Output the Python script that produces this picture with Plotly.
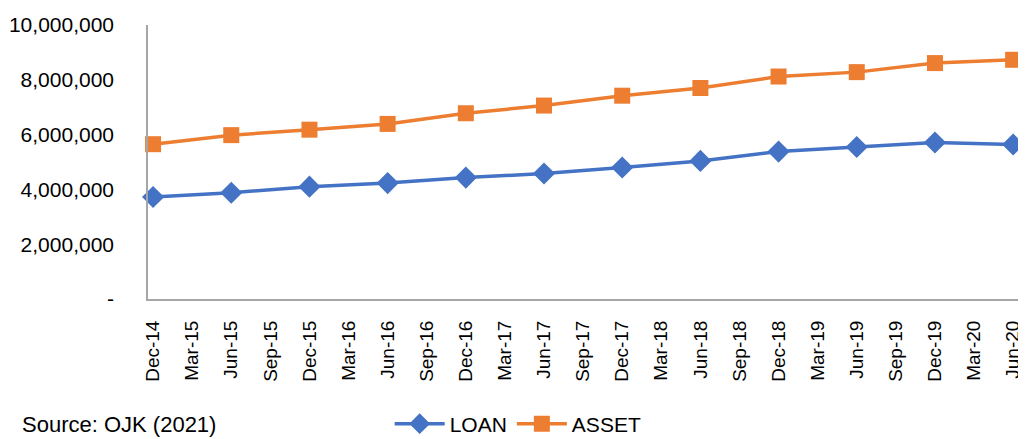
import plotly.graph_objects as go

categories = ["Dec-14", "Mar-15", "Jun-15", "Sep-15", "Dec-15", "Mar-16", "Jun-16", "Sep-16",
              "Dec-16", "Mar-17", "Jun-17", "Sep-17", "Dec-17", "Mar-18", "Jun-18", "Sep-18",
              "Dec-18", "Mar-19", "Jun-19", "Sep-19", "Dec-19", "Mar-20", "Jun-20"]
data_periods = ["Dec-14", "Jun-15", "Dec-15", "Jun-16", "Dec-16", "Jun-17",
                "Dec-17", "Jun-18", "Dec-18", "Jun-19", "Dec-19", "Jun-20"]
loan = [3720000, 3880000, 4100000, 4230000, 4430000, 4580000,
        4800000, 5040000, 5380000, 5550000, 5710000, 5640000]
asset = [5650000, 5980000, 6180000, 6390000, 6780000, 7060000,
         7420000, 7700000, 8120000, 8280000, 8610000, 8730000]
y_tickvals = [0, 2000000, 4000000, 6000000, 8000000, 10000000]
y_ticktext = ["-", "2,000,000", "4,000,000", "6,000,000", "8,000,000", "10,000,000"]

font = "Liberation Sans, Arial, sans-serif"

fig = go.Figure()
fig.add_trace(go.Scatter(x=data_periods, y=loan, name="LOAN", mode="lines+markers",
                         line=dict(color="#4472C4", width=3.5), cliponaxis=False,
                         marker=dict(symbol="diamond", size=17, color="#4472C4")))
fig.add_trace(go.Scatter(x=data_periods, y=asset, name="ASSET", mode="lines+markers",
                         line=dict(color="#ED7D31", width=3.5), cliponaxis=False,
                         marker=dict(symbol="square", size=16, color="#ED7D31")))

# page body has an 8px margin, so the figure is sized to fit the 1026x439 window
fig.update_layout(
    width=1018, height=431,
    margin=dict(l=140, r=7, t=17, b=140, autoexpand=False),
    plot_bgcolor="white", paper_bgcolor="white",
    font=dict(family=font, color="black"),
    showlegend=True,
    legend=dict(orientation="h", x=0.425, xanchor="center", y=(299-424)/274, yanchor="middle",
                font=dict(size=21, family=font), itemwidth=50, tracegroupgap=0),
    xaxis=dict(type="category", categoryorder="array", categoryarray=categories,
               tickmode="array", tickvals=categories, ticktext=categories,
               range=[-0.13, 22.15], tickangle=-90, tickfont=dict(size=19),
               showline=True, linecolor="#A6A6A6", linewidth=2, showgrid=False,
               ticks="", zeroline=False, automargin=False, ticklabelstandoff=12),
    yaxis=dict(range=[0, 10000000], tickvals=y_tickvals, ticktext=y_ticktext,
               tickfont=dict(size=21), showline=True, linecolor="#A6A6A6", linewidth=1.5,
               showgrid=False, zeroline=False, ticks="", automargin=False,
               ticklabelstandoff=28),
    annotations=[dict(text="Source: OJK (2021)", xref="paper", yref="paper",
                      x=-140/871, y=(299-410)/274, xanchor="left", yanchor="top",
                      xshift=12, showarrow=False, font=dict(size=22, family=font))],
)

fig.write_html("out.html")
